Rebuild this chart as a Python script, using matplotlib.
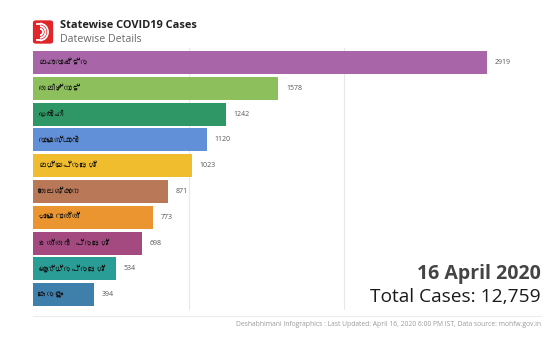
import matplotlib
matplotlib.use("Agg")
import matplotlib.pyplot as plt
from matplotlib import font_manager
from matplotlib.ft2font import FT2Font
from matplotlib.patches import FancyBboxPatch, Arc
from matplotlib.lines import Line2D

states = ["മഹാരാഷ്ട്ര", "തമിഴ്നാട്", "ഡൽഹി", "രാജസ്ഥാൻ", "മധ്യപ്രദേശ്",
          "തെലങ്കാന", "ഗുജറാത്ത്", "ഉത്തർ പ്രദേശ്", "ആന്ധ്രപ്രദേശ്", "കേരളം"]
cases = [2919, 1578, 1242, 1120, 1023, 871, 773, 698, 534, 394]
bar_colors = ["#a865a8", "#8dbf5c", "#2f9765", "#6190d8", "#f0bd2f",
              "#b97857", "#ea9530", "#a44a80", "#2a9e96", "#3f7fab"]

title = "Statewise COVID19 Cases"
subtitle = "Datewise Details"
date_text = "16 April 2020"
total_text = "Total Cases: 12,759"
footer = ("Deshabhimani Infographics : Last Updated: April 16, 2020 6:00 PM IST, "
          "Data source: mohfw.gov.in")


def find_malayalam_font():
    # look for any installed font that actually has Malayalam glyphs
    seen = set()
    for f in font_manager.fontManager.ttflist:
        if f.fname in seen:
            continue
        seen.add(f.fname)
        try:
            if 0x0D2E in FT2Font(f.fname).get_charmap():
                return f.name
        except Exception:
            pass
    return None


ml_font = find_malayalam_font()
label_family = [ml_font, "Noto Sans", "DejaVu Sans"] if ml_font else ["Noto Sans", "DejaVu Sans"]
plt.rcParams["font.family"] = ["Open Sans", "DejaVu Sans"]

W, H = 548, 337
fig = plt.figure(figsize=(W / 100, H / 100), dpi=100)
fig.patch.set_facecolor("white")

# axes placed in pixel terms: x from 33px, y from 48px to 310px
ax = fig.add_axes([33 / W, (H - 310) / H, (W - 33) / W, 262 / H])
ax.set_facecolor("white")

pos = list(range(len(states)))
ax.barh(pos, cases, height=0.89, color=bar_colors, zorder=2)
ax.set_xlim(0, 515 / 0.1555)
ax.set_ylim(9.59, -0.56)

for x in (1000, 2000):
    ax.axvline(x, color="#e8e8e8", linewidth=0.8, zorder=1)

for i, (name, val) in enumerate(zip(states, cases)):
    ax.text(35, i, name, ha="left", va="center", fontsize=6,
            color="#111111", family=label_family, zorder=3)
    ax.annotate(str(val), (val, i), xytext=(5.5, 0), textcoords="offset points",
                ha="left", va="center", fontsize=5, color="#555555")

for s in ax.spines.values():
    s.set_visible(False)
ax.set_xticks([])
ax.set_yticks([])

# logo: red rounded square with a white stacked "D"
fig.patches.append(FancyBboxPatch((34 / W, (H - 43) / H), 18 / W, 22 / H,
                                  boxstyle="round,pad=0.002,rounding_size=0.006",
                                  transform=fig.transFigure, facecolor="#e0262b",
                                  edgecolor="none"))
for r in (16, 11, 6):
    fig.patches.append(Arc((40 / W, (H - 32) / H), r / W, r * 1.05 / H,
                           theta1=-90, theta2=90, transform=fig.transFigure,
                           color="white", linewidth=1.3))
for yy in (24, 40):
    fig.lines.append(Line2D([37 / W, 40 / W], [(H - yy) / H, (H - yy) / H],
                            transform=fig.transFigure, color="white", linewidth=1.3))

fig.text(60 / W, (H - 26) / H, title, fontsize=7.9, fontweight="bold",
         color="#222222", ha="left", va="center")
fig.text(60 / W, (H - 39) / H, subtitle, fontsize=7.7, color="#6a6a6a",
         ha="left", va="center")

fig.text(541 / W, (H - 274) / H, date_text, fontsize=14, fontweight="bold",
         color="#444444", ha="right", va="center")
fig.text(541 / W, (H - 297) / H, total_text, fontsize=13.8, color="#1a1a1a",
         ha="right", va="center")

fig.lines.append(Line2D([33 / W, 541 / W], [(H - 316) / H, (H - 316) / H],
                        transform=fig.transFigure, color="#ececec", linewidth=0.8))
fig.text(541 / W, (H - 324) / H, footer, fontsize=4.85, color="#9a9a9a",
         ha="right", va="center")

fig.savefig("out.png", dpi=100)
